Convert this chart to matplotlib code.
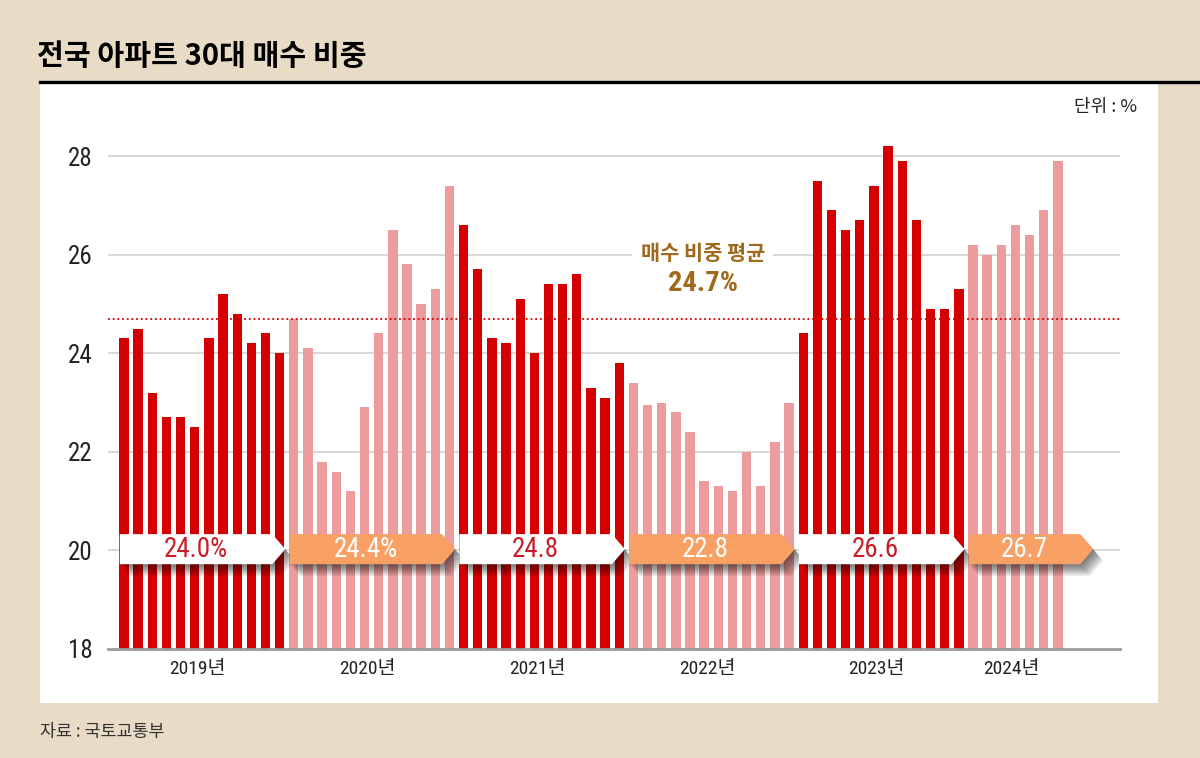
import numpy as np
import matplotlib
matplotlib.use('Agg')
import matplotlib.pyplot as plt
import matplotlib.patheffects as pe
from matplotlib import font_manager
from matplotlib.patches import Polygon, Rectangle
from matplotlib.lines import Line2D

# data, monthly share of buyers in their 30s, %
years = ['2019년', '2020년', '2021년', '2022년', '2023년', '2024년']
v2019 = [24.3, 24.5, 23.2, 22.7, 22.7, 22.5, 24.3, 25.2, 24.8, 24.2, 24.4, 24.0]
v2020 = [24.7, 24.1, 21.8, 21.6, 21.2, 22.9, 24.4, 26.5, 25.8, 25.0, 25.3, 27.4]
v2021 = [26.6, 25.7, 24.3, 24.2, 25.1, 24.0, 25.4, 25.4, 25.6, 23.3, 23.1, 23.8]
v2022 = [23.4, 22.95, 23.0, 22.8, 22.4, 21.4, 21.3, 21.2, 22.0, 21.3, 22.2, 23.0]
v2023 = [24.4, 27.5, 26.9, 26.5, 26.7, 27.4, 28.2, 27.9, 26.7, 24.9, 24.9, 25.3]
v2024 = [26.2, 26.0, 26.2, 26.6, 26.4, 26.9, 27.9]
year_avg_labels = ['24.0%', '24.4%', '24.8', '22.8', '26.6', '26.7']
overall_avg = 24.7
yticks = [18, 20, 22, 24, 26, 28]

series = [v2019, v2020, v2021, v2022, v2023, v2024]

# fonts - prefer a condensed face for the numbers if one is installed
names = {f.name for f in font_manager.fontManager.ttflist}
narrow = 'Roboto'
for cand in ['Liberation Sans Narrow', 'Roboto Condensed', 'Open Sans Condensed', 'DejaVu Sans Condensed']:
    if cand in names:
        narrow = cand
        break
kr = 'Noto Sans CJK KR'
plt.rcParams['font.family'] = [narrow, kr, 'DejaVu Sans']

BG = '#E9DCC6'
RED = '#D40000'
PINK = '#EC9C9C'
ORANGE = '#F9A065'
GOLD = '#A2691E'

W, H = 1200, 758
fig = plt.figure(figsize=(12, 7.58), dpi=100, facecolor=BG)

def fx(px):
    return px / W

def fy(py):
    return 1 - py / H

# white panel and title rule
fig.patches.append(Rectangle((fx(40), fy(703)), fx(1158) - fx(40), fy(82) - fy(703),
                             transform=fig.transFigure, facecolor='white', edgecolor='none', zorder=-5))
fig.add_artist(Line2D([fx(40), 1.0], [fy(82), fy(82)], color='black', lw=2.4,
                      transform=fig.transFigure))
fig.text(fx(37), fy(56), '전국 아파트 30대 매수 비중', family=[kr], fontsize=21,
         fontweight='black', color='black', va='center', ha='left')
fig.text(fx(1137), fy(107), '단위 : %', family=[kr, 'DejaVu Sans'], fontsize=13,
         color='#222222', va='center', ha='right')
fig.text(fx(40), fy(732), '자료 : 국토교통부', family=[kr, 'DejaVu Sans'], fontsize=12.5,
         color='#333333', va='center', ha='left')

# axes
step = 14.15
x0px = 124
left_px, right_px = 108, 1120
top_val, bot_px, top_px = 28.5, 649, 156 - 0.5 * 49.3
ax = fig.add_axes([fx(left_px), fy(bot_px), fx(right_px) - fx(left_px), (bot_px - top_px) / H])
ax.set_facecolor('none')
ax.set_xlim((left_px - x0px) / step, (right_px - x0px) / step)
ax.set_ylim(18, top_val)

for y in yticks[1:]:
    ax.axhline(y, color='#D2D2D2', lw=1.2, zorder=1)

start = 0
centers = []
starts = []
for i, vals in enumerate(series):
    xs = np.arange(start, start + len(vals))
    ax.bar(xs, vals, width=0.66, color=RED if i % 2 == 0 else PINK, zorder=2)
    centers.append(xs.mean() - 0.3)
    starts.append(start)
    start += len(vals)

ax.axhline(overall_avg, color=RED, lw=1.3, linestyle=(0, (1, 1.6)), zorder=3)

# year average arrows
shadow = [pe.SimplePatchShadow(offset=(d, -d * 1.2), shadow_rgbFace='black', alpha=0.09)
          for d in (1, 2, 3, 4, 5, 6, 7)] + [pe.Normal()]
ends = [s - 0.6 for s in starts[1:]] + [68.5]
tip = 0.92
ylo, yhi = 19.72, 20.33
for i, (s, e, lab) in enumerate(zip(starts, ends, year_avg_labels)):
    b = s - 0.3
    face = 'white' if i % 2 == 0 else ORANGE
    poly = Polygon([(b, ylo), (e - tip, ylo), (e, (ylo + yhi) / 2), (e - tip, yhi), (b, yhi)],
                   closed=True, facecolor=face, edgecolor='none', zorder=5)
    poly.set_path_effects(shadow)
    ax.add_patch(poly)
    ax.text((b + e - tip) / 2, (ylo + yhi) / 2, lab, fontsize=19.5,
            color='#C91E28' if i % 2 == 0 else 'white',
            ha='center', va='center', zorder=6)

# average annotation
ax.text(40.9, 26.02, '매수 비중 평균', family=[kr], fontsize=15, fontweight='bold',
        color=GOLD, ha='center', va='center', zorder=4,
        bbox=dict(facecolor='white', edgecolor='none', pad=6))
ax.text(40.9, 25.42, f'{overall_avg}%', fontsize=20.5, fontweight='bold',
        color=GOLD, ha='center', va='center', zorder=4)

ax.set_yticks(yticks)
ax.set_yticklabels([str(t) for t in yticks], fontsize=18, color='#222222')
ax.set_xticks(centers)
ax.set_xticklabels(years, fontsize=14, color='#222222')
ax.tick_params(axis='both', length=0)
ax.tick_params(axis='y', pad=11)
ax.tick_params(axis='x', pad=8)
for side in ['left', 'top', 'right']:
    ax.spines[side].set_visible(False)
ax.spines['bottom'].set_color('#9A9A9A')
ax.spines['bottom'].set_linewidth(2)
ax.spines['bottom'].set_zorder(3)

fig.savefig('out.png', dpi=100, facecolor=BG)
